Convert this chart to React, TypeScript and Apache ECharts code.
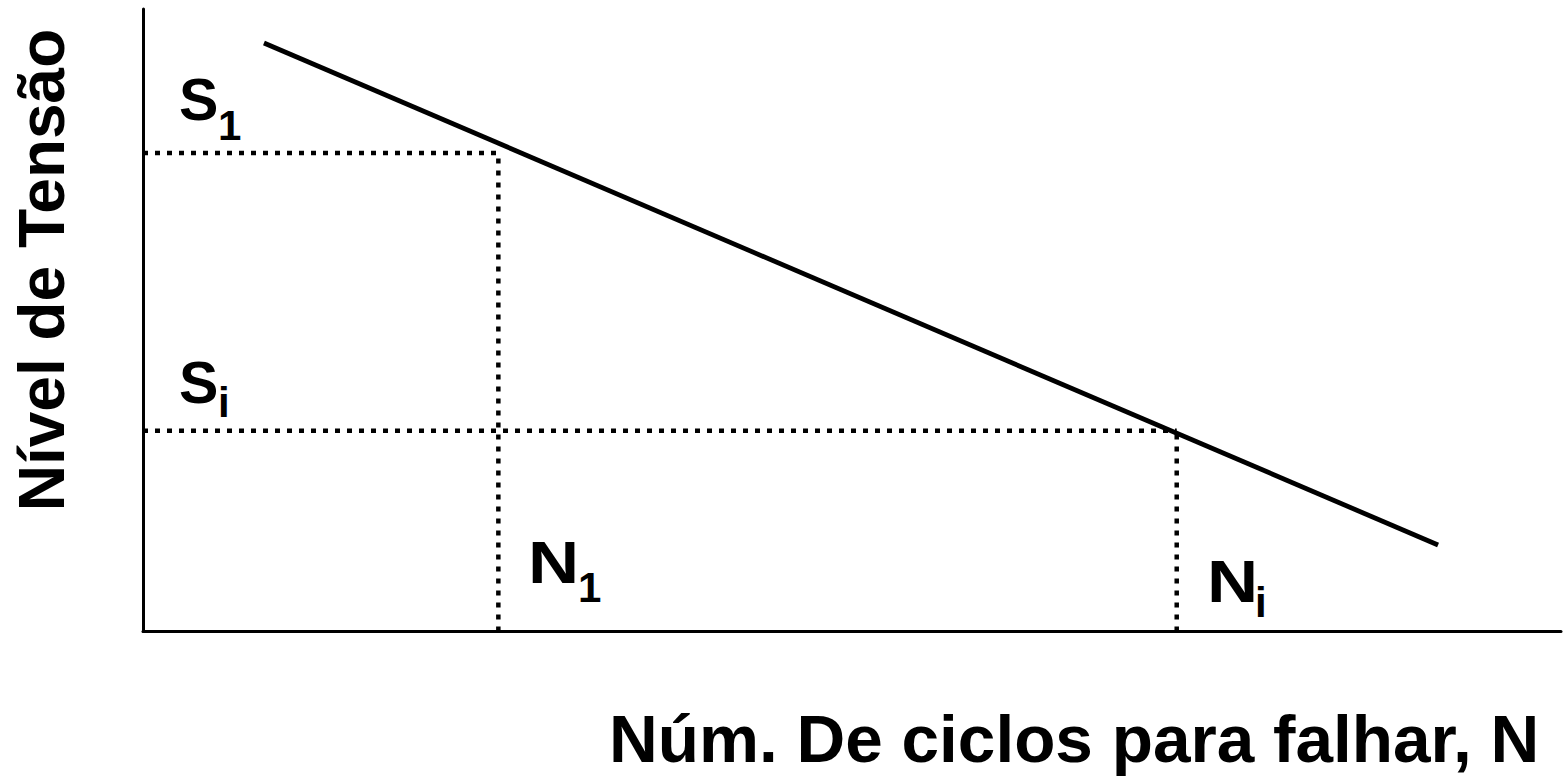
import React, { useEffect, useRef } from "react";
import * as echarts from "echarts";

// S-N curve (schematic), values in arbitrary units on 0-100 axes
const curveX = [8.53, 91.33];
const curveY = [94.54, 13.9];
const levelNames = ["S1", "Si"];
const levelStress = [76.87, 32.24];
const levelCycles = [25.06, 72.9];
const xTitle = "Núm. De ciclos para falhar, N";
const yTitle = "Nível de Tensão";

const FONT = '"Liberation Sans", Arial, Helvetica, sans-serif';

function labelText(text: string, x: number, baseline: number, size: number, sx = 1) {
  return {
    type: "text",
    x,
    y: baseline - 0.3465 * size,
    scaleX: sx,
    silent: true,
    style: {
      text,
      fill: "#000",
      font: `bold ${size}px ${FONT}`,
      textAlign: "left",
      verticalAlign: "middle",
    },
  };
}

export default function App() {
  const ref = useRef<HTMLDivElement>(null);
  useEffect(() => {
    if (!ref.current) return;
    const chart = echarts.init(ref.current, undefined, { renderer: "svg" });
    const dotted = {
      type: "line",
      symbol: "none",
      silent: true,
      lineStyle: { color: "#000", width: 4.5, type: [5, 7], cap: "butt" },
    };
    const series: any[] = [
      {
        type: "line",
        name: "curve",
        symbol: "none",
        silent: true,
        data: curveX.map((x, i) => [x, curveY[i]]),
        lineStyle: { color: "#000", width: 4.8 },
        z: 5,
      },
    ];
    levelNames.forEach((_, i) => {
      series.push({
        ...dotted,
        data: [
          [0, levelStress[i]],
          [levelCycles[i], levelStress[i]],
        ],
      });
      series.push({
        ...dotted,
        data: [
          [levelCycles[i], 0],
          [levelCycles[i], levelStress[i]],
        ],
      });
    });

    chart.setOption({
      animation: false,
      backgroundColor: "#fff",
      grid: { left: 143, right: 2, top: 9, bottom: 148.5, containLabel: false },
      xAxis: {
        type: "value",
        min: 0,
        max: 100,
        axisLine: { show: true, onZero: false, lineStyle: { color: "#000", width: 3 } },
        axisTick: { show: false },
        axisLabel: { show: false },
        splitLine: { show: false },
      },
      yAxis: {
        type: "value",
        min: 0,
        max: 100,
        axisLine: { show: true, onZero: false, lineStyle: { color: "#000", width: 3 } },
        axisTick: { show: false },
        axisLabel: { show: false },
        splitLine: { show: false },
      },
      series,
      graphic: [
        labelText("S", 179, 120, 59),
        labelText("1", 218, 140, 42),
        labelText("S", 179, 403, 59),
        labelText("i", 218, 417, 42),
        labelText("N", 528, 583, 59, 1.2),
        labelText("1", 578, 602, 42),
        labelText("N", 1207, 602, 59, 1.2),
        labelText("i", 1255, 617, 42),
        {
          type: "text",
          x: 609,
          y: 762 - 0.3465 * 67.5,
          silent: true,
          style: {
            text: xTitle,
            fill: "#000",
            font: `bold 67.5px ${FONT}`,
            textAlign: "left",
            verticalAlign: "middle",
          },
        },
        {
          type: "text",
          x: 64 - 0.3465 * 64,
          y: 270,
          rotation: Math.PI / 2,
          silent: true,
          style: {
            text: yTitle,
            fill: "#000",
            font: `bold 64px ${FONT}`,
            textAlign: "center",
            verticalAlign: "middle",
          },
        },
      ],
    });
    return () => chart.dispose();
  }, []);
  return (
    <div
      ref={ref}
      style={{ position: "fixed", left: 0, top: 0, width: 1563, height: 780, background: "#fff" }}
    />
  );
}
